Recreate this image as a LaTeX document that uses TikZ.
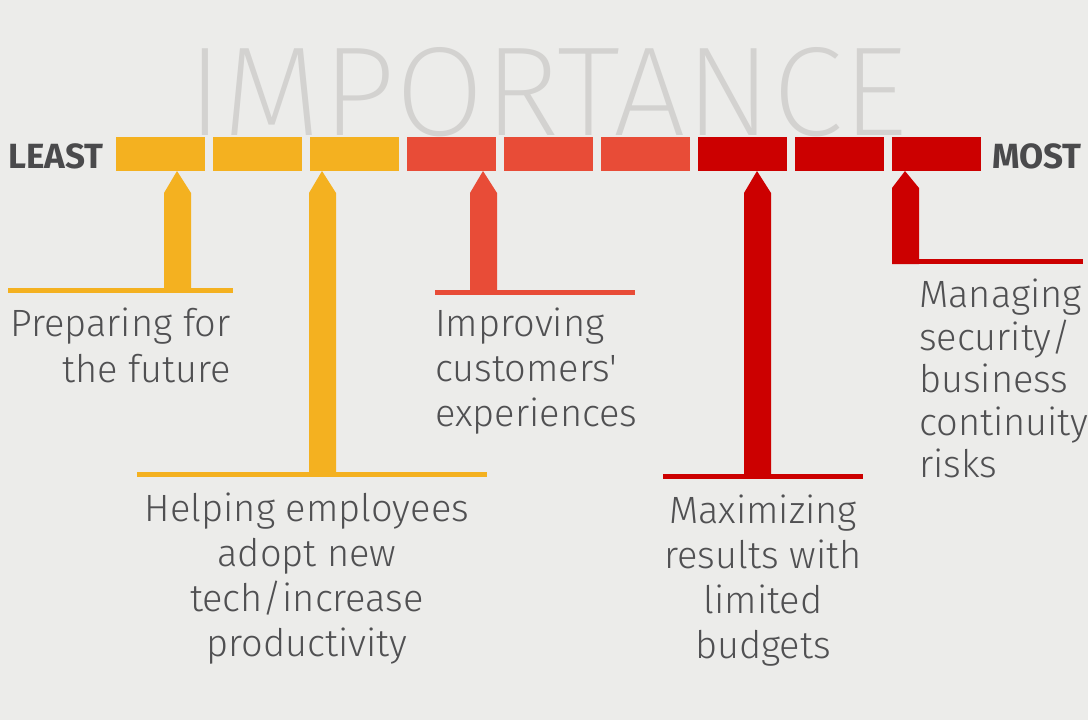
\documentclass[tikz,border=0pt]{standalone}
\usepackage{graphicx}
\usepackage{fontspec}
\setmainfont{Fira Sans}
\newfontfamily\lightf{Fira Sans Light}
\newfontfamily\thinf{Fira Sans ExtraLight}
\definecolor{bg}{HTML}{ECECEA}
\definecolor{ylw}{HTML}{F4B120}
\definecolor{org}{HTML}{E84C37}
\definecolor{rd}{HTML}{CC0000}
\definecolor{txt}{HTML}{505052}
\definecolor{dark}{HTML}{4A4A4C}
\definecolor{imp}{HTML}{D3D2D0}
\newcommand{\lbl}[3]{{\fontsize{38}{#3}\selectfont\begin{tabular}[t]{@{}#1@{}}#2\end{tabular}}}
\begin{document}
\begin{tikzpicture}[x=1pt,y=-1pt,
  bar/.style={fill=#1,draw=none,minimum width=89pt,minimum height=34pt,inner sep=0,anchor=north west},
  endlbl/.style={font=\bfseries\fontsize{35}{40}\selectfont,text=dark,inner sep=0},
  lbltxt/.style={text=txt,inner sep=0,font=\lightf}]
\fill[bg] (0,0) rectangle (1088,720);
\useasboundingbox (0,0) rectangle (1088,720);
% title
\node[anchor=south west,inner sep=0,text=imp] (title) at (187,137) {\resizebox{720pt}{88pt}{\thinf IMPORTANCE}};
% bars
\node[bar=ylw] (b1) at (116,137) {};
\node[bar=ylw] (b2) at (213,137) {};
\node[bar=ylw] (b3) at (310,137) {};
\node[bar=org] (b4) at (407,137) {};
\node[bar=org] (b5) at (504,137) {};
\node[bar=org] (b6) at (601,137) {};
\node[bar=rd] (b7) at (698,137) {};
\node[bar=rd] (b8) at (795,137) {};
\node[bar=rd] (b9) at (892,137) {};
\node[endlbl,anchor=base west] (least) at (8,168) {LEAST};
\node[endlbl,anchor=base east] (most) at (1082,168) {MOST};
% pointers
\fill[ylw] (177,171) -- (191,193) -- (191,290) -- (164,290) -- (164,193) -- cycle;
\fill[ylw] (8,288) rectangle (233,293);
\fill[ylw] (322,171) -- (336,193) -- (336,474) -- (309,474) -- (309,193) -- cycle;
\fill[ylw] (137,472) rectangle (487,477);
\fill[org] (483,171) -- (497,193) -- (497,292) -- (470,292) -- (470,193) -- cycle;
\fill[org] (435,290) rectangle (635,295);
\fill[rd] (757,171) -- (771,193) -- (771,476) -- (744,476) -- (744,193) -- cycle;
\fill[rd] (663,474) rectangle (863,479);
\fill[rd] (905,171) -- (919,188) -- (919,264) -- (892,264) -- (892,188) -- cycle;
\fill[rd] (892,259) rectangle (1083,264);
% labels
\node[lbltxt,anchor=base east] (l1) at (231,336) {\lbl{r}{Preparing for\\the future}{46}};
\node[lbltxt,anchor=base] (l2) at (307,521) {\lbl{c}{Helping employees\\adopt new\\tech/increase\\productivity}{45}};
\node[lbltxt,anchor=base west] (l3) at (435,336) {\lbl{l}{Improving\\customers'\\experiences}{45}};
\node[lbltxt,anchor=base] (l4) at (763,523) {\lbl{c}{Maximizing\\results with\\limited\\budgets}{45}};
\node[lbltxt,anchor=base west] (l5) at (919,307) {\lbl{l}{Managing\\security/\\business\\continuity\\risks}{42.5}};
\end{tikzpicture}
\end{document}
